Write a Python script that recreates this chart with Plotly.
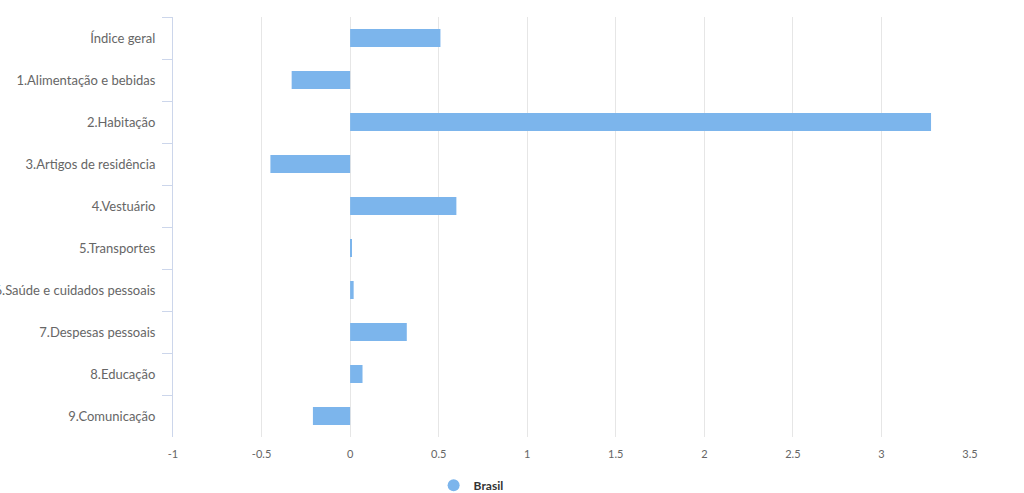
import plotly.graph_objects as go

categories = [
    "Índice geral",
    "1.Alimentação e bebidas",
    "2.Habitação",
    "3.Artigos de residência",
    "4.Vestuário",
    "5.Transportes",
    "6.Saúde e cuidados pessoais",
    "7.Despesas pessoais",
    "8.Educação",
    "9.Comunicação",
]
values = [0.51, -0.33, 3.28, -0.45, 0.60, 0.01, 0.02, 0.32, 0.07, -0.21]
x_ticks = [-1, -0.5, 0, 0.5, 1, 1.5, 2, 2.5, 3, 3.5]
series_name = "Brasil"
color = "#7cb5ec"

fig = go.Figure()
fig.add_trace(go.Bar(
    y=categories, x=values, orientation="h",
    marker=dict(color=color, line=dict(color="#ffffff", width=0)),
    showlegend=False, name=series_name,
))
fig.add_trace(go.Scatter(
    x=[None], y=[None], mode="markers", name=series_name,
    marker=dict(symbol="circle", size=14, color=color),
    showlegend=True,
))

fig.update_layout(
    width=1024, height=493,
    margin=dict(l=173, r=54, t=17, b=56, autoexpand=False),
    paper_bgcolor="white", plot_bgcolor="white",
    font=dict(family="Lato, sans-serif", size=12, color="#666666"),
    bargap=0.57,
    showlegend=True,
    legend=dict(
        orientation="h", x=0.327, xanchor="left", y=-0.115, yanchor="middle",
        font=dict(size=12, color="#333333", family="Lato, sans-serif", weight="bold"),
        itemsizing="constant",
    ),
    xaxis=dict(
        range=[-1, 3.5], tickvals=x_ticks, ticktext=[str(v) for v in x_ticks],
        showgrid=True, gridcolor="#e6e6e6", gridwidth=1,
        zeroline=False, showline=False, ticks="",
        tickfont=dict(size=11, color="#666666"),
        ticklabelstandoff=9,
        automargin=False,
    ),
    yaxis=dict(
        type="category", autorange="reversed",
        categoryorder="array", categoryarray=categories,
        showgrid=False, zeroline=False,
        showline=True, linecolor="#ccd6eb", linewidth=1,
        ticks="outside", ticklen=10, tickcolor="#ccd6eb", tickson="boundaries",
        tickfont=dict(size=13, color="#666666"),
        ticklabelstandoff=14,
        automargin=False,
    ),
)

fig.write_html("out.html")
